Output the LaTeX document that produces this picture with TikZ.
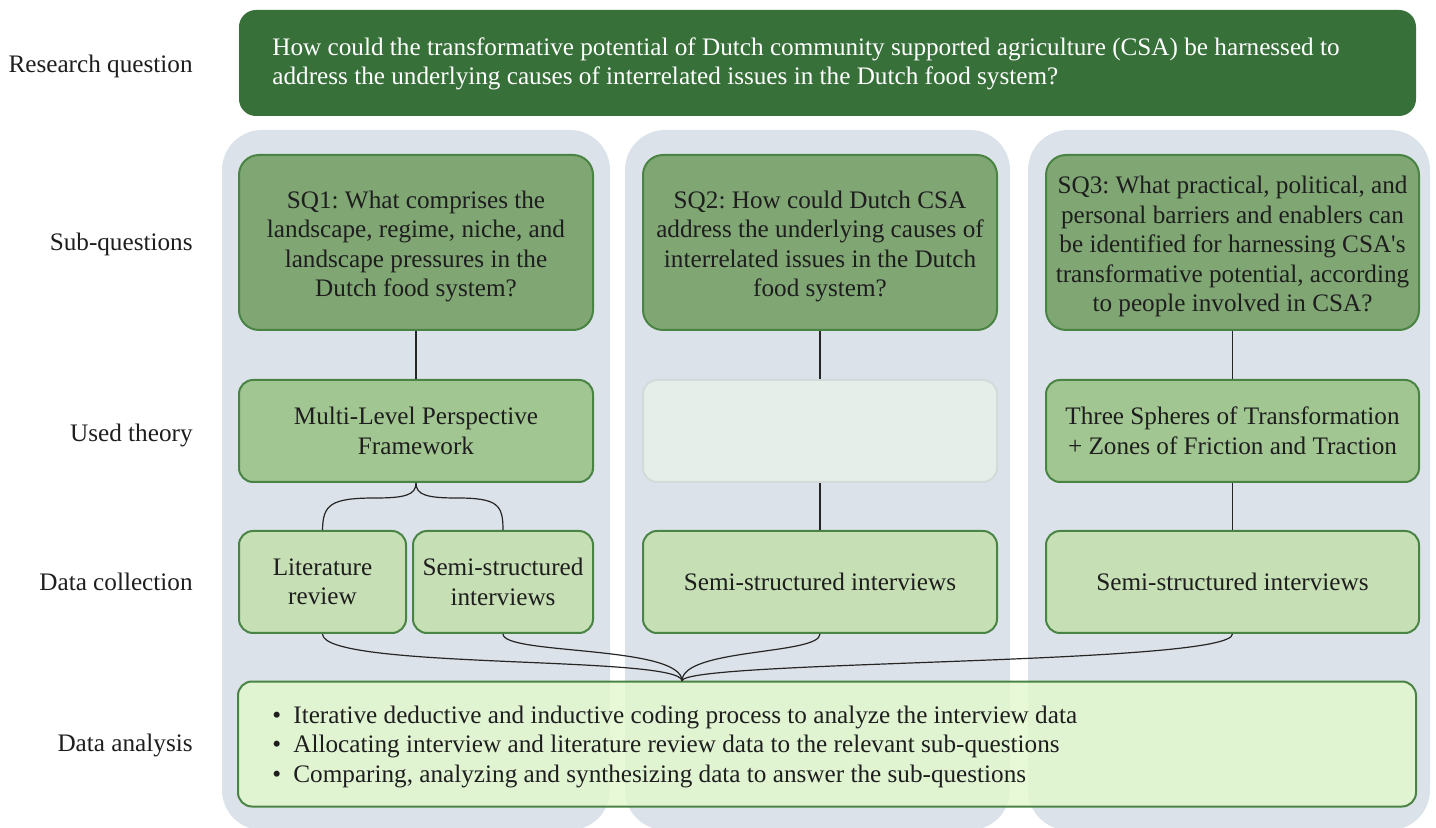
\documentclass[tikz,border=0pt]{standalone}
\usepackage{fontspec}
\setmainfont{Liberation Serif}
\newfontfamily\rawfont{Liberation Serif}[Ligatures=ResetAll]
\definecolor{rqgreen}{HTML}{38703A}
\definecolor{sqgreen}{HTML}{80A674}
\definecolor{thgreen}{HTML}{A2C692}
\definecolor{dcgreen}{HTML}{C6DFB5}
\definecolor{angreen}{HTML}{E3F8CF}
\definecolor{boxline}{HTML}{4A8444}
\definecolor{colgray}{HTML}{DCE2E9}
\definecolor{emptyfill}{HTML}{E6EEEA}
\definecolor{emptyline}{HTML}{D3DBDA}
\definecolor{txt}{HTML}{1E1E1E}
\begin{document}
\begin{tikzpicture}[x=0.5pt,y=-0.5pt,
  font=\fontsize{12.6}{14.75}\selectfont\frenchspacing,
  box/.style={draw=boxline,line width=1pt,rounded corners=7pt,inner sep=0pt,align=center,text=txt},
  sqbox/.style={box,fill=sqgreen,rounded corners=10pt,minimum height=87.5pt},
  sqtext/.style={align=center,inner sep=0pt,text=txt},
  thbox/.style={box,fill=thgreen,minimum height=51pt},
  dcbox/.style={box,fill=dcgreen,minimum height=51pt},
  rowlabel/.style={anchor=east,text=txt,inner sep=0pt},
  conn/.style={draw=black!85,line width=0.6pt}]
\useasboundingbox (0,0) rectangle (1436,828);
% column backgrounds
\fill[colgray,rounded corners=20pt] (222,130) rectangle (610,830);
\fill[colgray,rounded corners=20pt] (625,130) rectangle (1010,830);
\fill[colgray,rounded corners=20pt] (1028,130) rectangle (1430,830);
% research question
\node[box,fill=rqgreen,draw=rqgreen,rounded corners=8pt,minimum width=587.5pt,minimum height=52pt] (rq) at (827.5,63) {};
\node[anchor=west,align=left,text=white,inner sep=0pt] (rqtext) at (272,64)
  {How could the transformative potential of Dutch community supported agriculture (CSA) be harnessed to\\
   address the underlying causes of interrelated issues in the Dutch food system?};
% row labels
\node[rowlabel] (lrq) at (193,66) {Research question};
\node[rowlabel] (lsq) at (193,244) {Sub-questions};
\node[rowlabel] (lth) at (193,435) {Used theory};
\node[rowlabel] (ldc) at (193,582) {Data collection};
\node[rowlabel] (lan) at (193,745) {Data analysis};
% sub-questions
\node[sqbox,minimum width=177pt] (sq1) at (416,242.5) {};
\node[sqtext] (sq1t) at (416,246.5)
  {SQ1: What comprises the\\ landscape, regime, niche, and\\ landscape pressures in the\\ Dutch food system?};
\node[sqbox,minimum width=177pt] (sq2) at (820,242.5) {};
\node[sqtext] (sq2t) at (820,246.5)
  {SQ2: How could Dutch CSA\\ address the underlying causes of\\ interrelated issues in the Dutch\\ food system?};
\node[sqbox,minimum width=186.5pt] (sq3) at (1232.5,242.5) {};
\node[sqtext] (sq3t) at (1232.5,246.5)
  {SQ3: What practical, political, and\\ personal barriers and enablers can\\ be identified for harnessing CSA{\rawfont'}s\\ transformative potential, according\\ to people involved in CSA?};
% theories
\node[thbox,minimum width=177pt] (th1) at (416,431) {Multi-Level Perspective\\ Framework};
\node[box,fill=emptyfill,draw=emptyline,minimum width=177pt,minimum height=51pt] (th2) at (820,431) {};
\node[thbox,minimum width=186.5pt] (th3) at (1232.5,431) {Three Spheres of Transformation\\ + Zones of Friction and Traction};
% data collection
\node[dcbox,minimum width=83.5pt] (lit) at (322.5,582) {Literature\\ review};
\node[dcbox,minimum width=90pt] (ssi1) at (503,582) {Semi-structured\\ interviews};
\node[dcbox,minimum width=177pt] (ssi2) at (820,582) {Semi-structured interviews};
\node[dcbox,minimum width=186.5pt] (ssi3) at (1232.5,582) {Semi-structured interviews};
% data analysis
\node[box,fill=angreen,fill opacity=0.85,text opacity=1,minimum width=589pt,minimum height=62.5pt] (an) at (827,744) {};
\node[anchor=west,align=left,inner sep=0pt,text=txt] (antext) at (272,746.5)
  {\makebox[10.5pt][l]{\textbullet}Iterative deductive and inductive coding process to analyze the interview data\\
   \makebox[10.5pt][l]{\textbullet}Allocating interview and literature review data to the relevant sub-questions\\
   \makebox[10.5pt][l]{\textbullet}Comparing, analyzing and synthesizing data to answer the sub-questions};
\coordinate (join) at (682,681);
% connectors
\draw[conn] (sq1.south) -- (th1.north);
\draw[conn] (sq2.south) -- (th2.north);
\draw[conn] (th2.south) -- (ssi2.north);
\draw[conn] (sq3.south) -- (th3.north);
\draw[conn] (th3.south) -- (ssi3.north);
\draw[conn] (th1.south) .. controls (416,495) and (405,498) .. (375,498) .. controls (330,498) and (323,505) .. (lit.north);
\draw[conn] (th1.south) .. controls (416,495) and (427,498) .. (457,498) .. controls (498,498) and (503,505) .. (ssi1.north);
\draw[conn] (lit.south) .. controls (323,670) and (682,655) .. (join);
\draw[conn] (ssi1.south) .. controls (503,655) and (682,645) .. (join);
\draw[conn] (ssi2.south) .. controls (820,655) and (682,648) .. (join);
\draw[conn] (ssi3.south) .. controls (1232,665) and (682,660) .. (join);
\end{tikzpicture}
\end{document}
